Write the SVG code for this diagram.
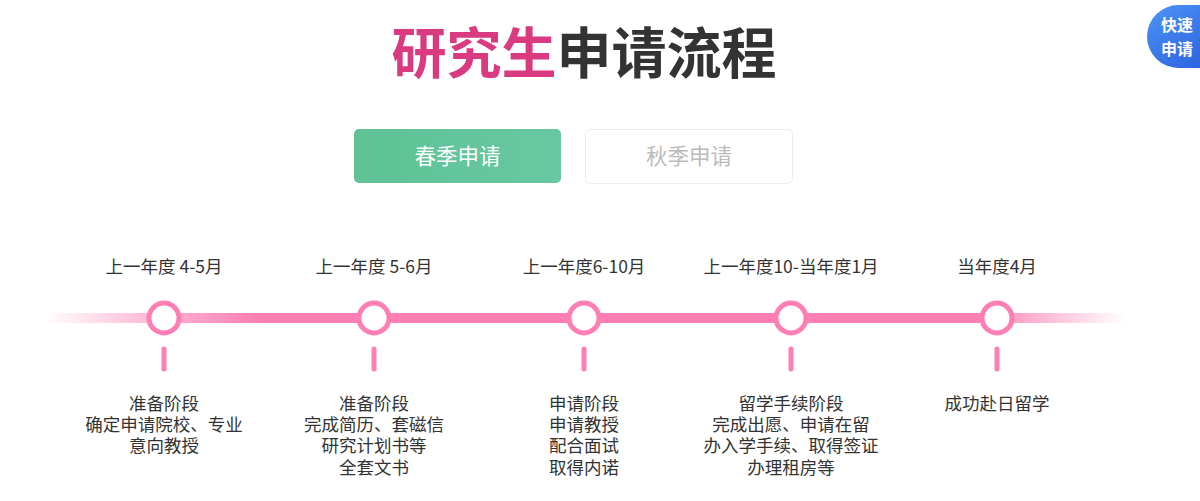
<svg xmlns="http://www.w3.org/2000/svg" width="1200" height="501" viewBox="0 0 1200 501">
<style>
text{font-family:"Noto Sans CJK SC","Noto Sans",sans-serif;}
.title{font-size:55px;font-weight:700;}
.btn{font-size:21.5px;}
.lbl{font-size:17.5px;fill:#333;text-anchor:middle;}
.desc{font-size:17.5px;fill:#333;text-anchor:middle;}
.dot{fill:#fff;stroke:#ff7eb3;stroke-width:5;}
.tick{stroke:#ff7eb3;stroke-width:5;stroke-linecap:round;}
</style>
<defs>
<linearGradient id="lineg" x1="45" y1="0" x2="1125" y2="0" gradientUnits="userSpaceOnUse">
<stop offset="0" stop-color="#ff7eb3" stop-opacity="0"/>
<stop offset="0.1" stop-color="#ff7eb3" stop-opacity="0.55"/>
<stop offset="0.2" stop-color="#ff7eb3" stop-opacity="1"/>
<stop offset="0.86" stop-color="#ff7eb3" stop-opacity="1"/>
<stop offset="1" stop-color="#ff7eb3" stop-opacity="0"/>
</linearGradient>
<linearGradient id="greeng" x1="0" y1="0" x2="1" y2="0">
<stop offset="0" stop-color="#5ec295"/>
<stop offset="1" stop-color="#68c8a2"/>
</linearGradient>
<linearGradient id="blueg" x1="0" y1="0" x2="1" y2="1">
<stop offset="0" stop-color="#4d94f7"/>
<stop offset="1" stop-color="#2458d8"/>
</linearGradient>
</defs>
<rect width="1200" height="501" fill="#fff"/>
<g id="title">
<text x="584" y="73" text-anchor="middle" class="title"><tspan fill="#d93a80">研究生</tspan><tspan fill="#333">申请流程</tspan></text>
</g>
<g id="badge">
<rect x="1147" y="5" width="90" height="63" rx="31.5" fill="url(#blueg)"/>
<text x="1177" y="31" text-anchor="middle" font-size="16" font-weight="700" fill="#fff">快速</text>
<text x="1177" y="55" text-anchor="middle" font-size="16" font-weight="700" fill="#fff">申请</text>
</g>
<g id="btn-spring">
<rect x="354" y="129" width="207" height="54" rx="5" fill="url(#greeng)"/>
<text x="457.5" y="164" text-anchor="middle" class="btn" fill="#fff">春季申请</text>
</g>
<g id="btn-autumn">
<rect x="585.5" y="129.5" width="207" height="54" rx="5" fill="#fff" stroke="#ececec"/>
<text x="689" y="164" text-anchor="middle" class="btn" fill="#bbb">秋季申请</text>
</g>
<g id="connectors">
<rect x="45" y="313" width="1080" height="10" fill="url(#lineg)"/>
<line class="tick" x1="164" y1="349" x2="164" y2="369"/>
<line class="tick" x1="374" y1="349" x2="374" y2="369"/>
<line class="tick" x1="584" y1="349" x2="584" y2="369"/>
<line class="tick" x1="791" y1="349" x2="791" y2="369"/>
<line class="tick" x1="997" y1="349" x2="997" y2="369"/>
</g>
<g id="step1">
<text x="164" y="273" class="lbl">上一年度 4-5月</text>
<circle class="dot" cx="164" cy="318" r="15"/>
<text class="desc" x="164" y="410">准备阶段</text>
<text class="desc" x="164" y="431">确定申请院校、专业</text>
<text class="desc" x="164" y="452">意向教授</text>
</g>
<g id="step2">
<text x="374" y="273" class="lbl">上一年度 5-6月</text>
<circle class="dot" cx="374" cy="318" r="15"/>
<text class="desc" x="374" y="410">准备阶段</text>
<text class="desc" x="374" y="431">完成简历、套磁信</text>
<text class="desc" x="374" y="452">研究计划书等</text>
<text class="desc" x="374" y="474">全套文书</text>
</g>
<g id="step3">
<text x="584" y="273" class="lbl">上一年度6-10月</text>
<circle class="dot" cx="584" cy="318" r="15"/>
<text class="desc" x="584" y="410">申请阶段</text>
<text class="desc" x="584" y="431">申请教授</text>
<text class="desc" x="584" y="452">配合面试</text>
<text class="desc" x="584" y="474">取得内诺</text>
</g>
<g id="step4">
<text x="791" y="273" class="lbl">上一年度10-当年度1月</text>
<circle class="dot" cx="791" cy="318" r="15"/>
<text class="desc" x="791" y="410">留学手续阶段</text>
<text class="desc" x="791" y="431">完成出愿、申请在留</text>
<text class="desc" x="791" y="452">办入学手续、取得签证</text>
<text class="desc" x="791" y="474">办理租房等</text>
</g>
<g id="step5">
<text x="997" y="273" class="lbl">当年度4月</text>
<circle class="dot" cx="997" cy="318" r="15"/>
<text class="desc" x="997" y="410">成功赴日留学</text>
</g>
</svg>
